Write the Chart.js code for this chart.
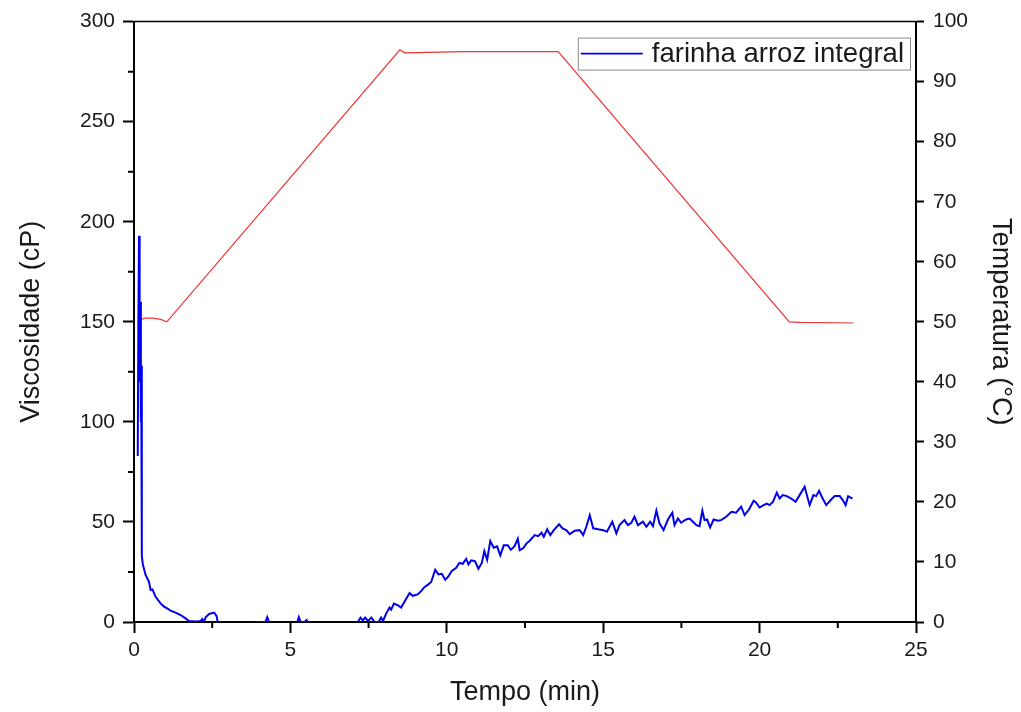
<!DOCTYPE html>
<html>
<head>
<meta charset="utf-8">
<script src="https://cdn.jsdelivr.net/npm/chart.js@4/dist/chart.umd.min.js"></script>
<style>
  html, body { margin: 0; padding: 0; background: #fff; }
  #wrap { width: 1021px; height: 712px; position: relative; }
</style>
</head>
<body>
<div id="wrap"><canvas id="rvaChart"></canvas></div>
<script>
// viscosity curve (cP) against time (min)
const viscTime = [
  0.12, 0.14, 0.16, 0.18, 0.20, 0.22, 0.23, 0.25, 0.28, 0.37, 0.48, 0.53, 0.59, 0.69, 0.85, 0.96,
  1.06, 1.17, 1.33, 1.49, 1.65, 1.76, 1.97, 2.13, 2.18, 2.24, 2.29, 2.40, 2.56, 2.64, 2.70,
  3.85, 3.90, 4.20, 4.26, 4.32, 4.45, 5.15, 5.22, 5.27, 5.33, 5.45, 5.52, 5.58,
  7.10, 7.16, 7.24, 7.32, 7.39, 7.48, 7.59, 7.69, 7.82, 7.90, 7.96,
  8.06, 8.17, 8.22, 8.31, 8.44, 8.54, 8.67, 8.81, 8.91, 9.07, 9.20, 9.29, 9.41, 9.50, 9.63,
  9.73, 9.84, 9.95, 10.05, 10.16, 10.30, 10.40, 10.51, 10.62, 10.69, 10.78, 10.90, 11.01,
  11.12, 11.20, 11.29, 11.39, 11.50, 11.61, 11.71, 11.82, 11.95, 12.05, 12.16, 12.27, 12.33,
  12.44, 12.55, 12.65, 12.81, 12.92, 13.03, 13.10, 13.21, 13.31, 13.42, 13.59, 13.70, 13.82,
  13.93, 14.09, 14.25, 14.36, 14.46, 14.57, 14.68, 14.84, 15.00, 15.12, 15.29, 15.42, 15.52,
  15.68, 15.79, 15.90, 16.00, 16.11, 16.27, 16.38, 16.50, 16.59, 16.70, 16.80, 16.93, 17.07,
  17.21, 17.28, 17.39, 17.49, 17.65, 17.76, 17.87, 17.98, 18.08, 18.17, 18.24, 18.32, 18.42,
  18.53, 18.67, 18.77, 18.93, 19.10, 19.25, 19.41, 19.52, 19.66, 19.81, 19.89, 20.00, 20.13,
  20.23, 20.32, 20.43, 20.55, 20.64, 20.74, 20.87, 21.01, 21.15, 21.28, 21.44, 21.51, 21.60,
  21.72, 21.81, 21.90, 22.00, 22.13, 22.29, 22.40, 22.56, 22.66, 22.75, 22.83, 22.97
];
const viscValues = [
  83, 150, 193, 120, 160, 100, 128, 33, 29, 23.5, 20.1, 16, 16.3, 12.6, 9.3, 7.7,
  6.8, 5.7, 4.7, 3.5, 1.8, 0.5, 0.2, 0.5, 1.5, 0.2, 2.3, 4, 4.7, 3, -2,
  -2, 0, 0, 2.5, 0, -2, -2, 0, 2.5, 0, 0, 1, -2,
  -2, 0, 2.2, 0.8, 2.2, 0.5, 2.2, 0, 0, 2.2, 0.5,
  4.2, 7.2, 6.2, 9.2, 8.3, 7.2, 10.8, 14.5, 13.1, 13.8, 15.8, 17.5, 18.8, 20, 26.1,
  23.8, 24.1, 21.1, 22.8, 25.5, 27.1, 29.5, 29.1, 31.6, 28.8, 30.8, 30.4, 26.6,
  29.5, 35.4, 31.1, 40.4, 37.1, 37.8, 33.3, 38.3, 38.3, 36.1, 37.8, 41.6, 35.9,
  36.8, 39.3, 40.6, 43.4, 42.9, 44.6, 42.6, 46.3, 43.4, 45.9, 48.8, 46.8, 45.9,
  43.9, 45.6, 45.9, 43.4, 47.6, 53.4, 46.8, 46.3, 45.9, 45.1, 50.1, 44.3, 48.4,
  50.9, 48.4, 49.6, 52.6, 48.4, 50.1, 47.6, 50.1, 47.9, 55.6, 49.3, 45.9, 51.2,
  54.6, 48.4, 51.8, 49.6, 51.2, 51.7, 50.1, 48.4, 47.9, 55.6, 50.9, 51.2, 47.3,
  51.2, 50.6, 50.9, 52.6, 55.1, 54.6, 57.6, 53.4, 56.2, 60.6, 59.6, 57.2, 58.4,
  59.2, 58.4, 60.1, 64.6, 61.7, 63.4, 62.9, 61.7, 60.1, 63.4, 67.6, 63.4, 58.4,
  63.4, 62.9, 65.6, 62.2, 58.4, 61.2, 62.9, 62.9, 60.9, 58.4, 62.9, 61.7
];

// temperature profile (°C)
const tempTime = [0.11, 0.20, 0.35, 0.60, 0.85, 1.05, 8.50, 8.65, 10.5, 12.0, 13.56, 20.95, 21.3, 23.0];
const tempValues = [49.7, 50.3, 50.6, 50.6, 50.4, 50.0, 95.3, 94.8, 95.0, 95.0, 95.0, 50.0, 49.9, 49.8];

const xTicks = [0, 5, 10, 15, 20, 25];
const xMinorTicks = [2.5, 7.5, 12.5, 17.5, 22.5];
const yMinorTicks = [25, 75, 125, 175, 225, 275];

const seriesLabel = 'farinha arroz integral';
const blue = 'rgb(0, 0, 235)';
const red = 'rgb(238, 52, 52)';
const FONT = '"Liberation Sans", Arial, sans-serif';

// short unlabeled ticks between the major ones
const minorTicks = {
  id: 'minorTicks',
  afterDraw(chart) {
    const c = chart.ctx;
    const xs = chart.scales.x, ys = chart.scales.y;
    c.save();
    c.strokeStyle = '#000';
    c.lineWidth = 2;
    c.beginPath();
    xMinorTicks.forEach(v => {
      const px = xs.getPixelForValue(v);
      c.moveTo(px, xs.top);
      c.lineTo(px, xs.top + 6);
    });
    yMinorTicks.forEach(v => {
      const py = ys.getPixelForValue(v);
      c.moveTo(ys.right, py);
      c.lineTo(ys.right - 6, py);
    });
    c.stroke();
    // frame line on top
    c.lineWidth = 1.5;
    c.beginPath();
    c.moveTo(chart.chartArea.left, chart.chartArea.top);
    c.lineTo(chart.chartArea.right, chart.chartArea.top);
    c.stroke();
    c.restore();
  }
};

// boxed legend inside the plot, top right
const boxLegend = {
  id: 'boxLegend',
  afterDraw(chart) {
    const c = chart.ctx;
    const ds = chart.data.datasets[0];
    const area = chart.chartArea;
    c.save();
    c.font = '27.5px ' + FONT;
    const tw = c.measureText(ds.label).width;
    const h = 32;
    const w = 74 + tw + 6;
    const x0 = area.right - 6 - w;
    const y0 = area.top + 16;
    c.strokeStyle = '#8a8a8a';
    c.lineWidth = 1;
    c.strokeRect(x0 + 0.5, y0 + 0.5, w, h);
    c.strokeStyle = ds.borderColor;
    c.lineWidth = 1.6;
    c.beginPath();
    c.moveTo(x0 + 3, y0 + h / 2);
    c.lineTo(x0 + 65, y0 + h / 2);
    c.stroke();
    c.fillStyle = '#1a1a1a';
    c.textBaseline = 'middle';
    c.fillText(ds.label, x0 + 74, y0 + h / 2 + 1);
    c.restore();
  }
};

const tickFont = { family: FONT, size: 21 };
const titleFont = { family: FONT, size: 27 };

new Chart(document.getElementById('rvaChart'), {
  type: 'line',
  data: {
    datasets: [
      {
        label: seriesLabel,
        data: viscTime.map((t, i) => ({ x: t, y: viscValues[i] })),
        borderColor: blue,
        borderWidth: 2,
        pointRadius: 0,
        tension: 0,
        yAxisID: 'y'
      },
      {
        label: 'Temperatura',
        data: tempTime.map((t, i) => ({ x: t, y: tempValues[i] })),
        borderColor: red,
        borderWidth: 1.2,
        pointRadius: 0,
        tension: 0,
        yAxisID: 'y1'
      }
    ]
  },
  options: {
    responsive: true,
    maintainAspectRatio: false,
    animation: false,
    layout: { padding: { top: 21, left: 0, right: 0, bottom: 0 } },
    plugins: {
      legend: { display: false },
      tooltip: { enabled: false }
    },
    scales: {
      x: {
        type: 'linear',
        min: 0,
        max: 25,
        afterBuildTicks: s => { s.ticks = xTicks.map(v => ({ value: v })); },
        afterFit: s => { s.height = 90; },
        ticks: { font: tickFont, color: '#1a1a1a', padding: 5, maxRotation: 0 },
        grid: { drawOnChartArea: false, tickLength: 11, tickWidth: 2, tickColor: '#000' },
        border: { color: '#000', width: 2 },
        title: { display: true, text: 'Tempo (min)', font: titleFont, color: '#1a1a1a', padding: { top: 0, bottom: 3 } }
      },
      y: {
        position: 'left',
        min: 0,
        max: 300,
        ticks: { stepSize: 50, font: tickFont, color: '#1a1a1a', padding: 8 },
        afterFit: s => { s.width = 134; },
        grid: { drawOnChartArea: false, tickLength: 11, tickWidth: 2, tickColor: '#000' },
        border: { color: '#000', width: 2 },
        title: { display: true, text: 'Viscosidade (cP)', font: titleFont, color: '#1a1a1a', padding: { top: 15, bottom: 0 } }
      },
      y1: {
        position: 'right',
        min: 0,
        max: 100,
        ticks: { stepSize: 10, font: tickFont, color: '#1a1a1a', padding: 9 },
        afterFit: s => { s.width = 105; },
        grid: { drawOnChartArea: false, tickLength: 8, tickWidth: 2, tickColor: '#000' },
        border: { color: '#000', width: 2 },
        title: { display: true, text: 'Temperatura (°C)', font: titleFont, color: '#1a1a1a', padding: { top: 4, bottom: 0 } }
      }
    }
  },
  plugins: [minorTicks, boxLegend]
});
</script>
</body>
</html>
